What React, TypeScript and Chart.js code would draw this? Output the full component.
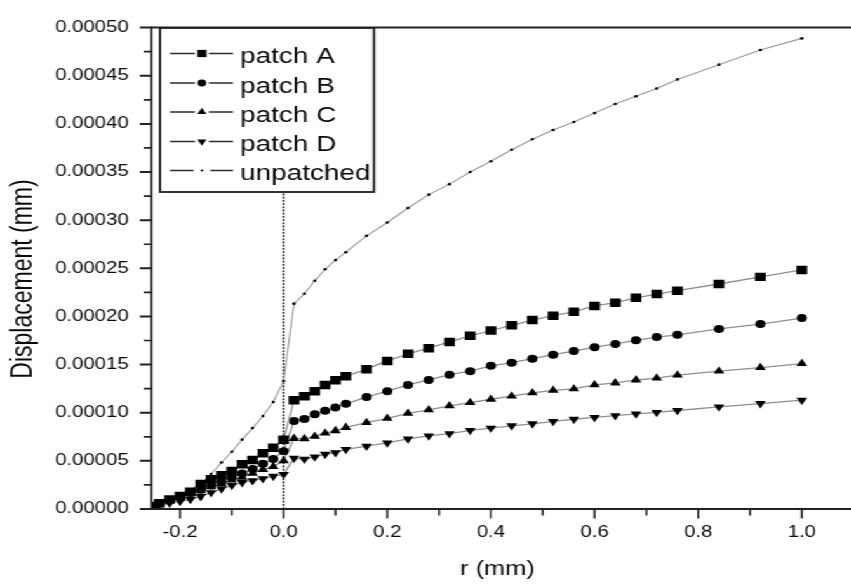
import React, { useEffect, useRef } from "react";
import { Chart, registerables } from "chart.js";

Chart.register(...registerables);

// The reference picture is horizontally stretched; we draw at a narrower width and stretch.
const STRETCH = 1.27;
const W = 670;
const H = 584;

const rValues = [
  -0.25, -0.24, -0.22, -0.2, -0.18, -0.16, -0.14, -0.12, -0.1, -0.08, -0.06, -0.04, -0.02, 0.0,
  0.02, 0.04, 0.06, 0.08, 0.1, 0.12, 0.16, 0.2, 0.24, 0.28, 0.32, 0.36, 0.4, 0.44, 0.48, 0.52,
  0.56, 0.6, 0.64, 0.68, 0.72, 0.76, 0.84, 0.92, 1.0,
];

const patchA = [
  0.03e-4, 0.06e-4, 0.1e-4, 0.135e-4, 0.18e-4, 0.26e-4, 0.31e-4, 0.35e-4, 0.395e-4, 0.466e-4, 0.51e-4, 0.58e-4, 0.635e-4, 0.72e-4,
  1.13e-4, 1.17e-4, 1.224e-4, 1.289e-4, 1.337e-4, 1.378e-4, 1.452e-4, 1.538e-4, 1.612e-4, 1.67e-4, 1.735e-4, 1.799e-4, 1.854e-4, 1.908e-4, 1.962e-4, 2.008e-4,
  2.048e-4, 2.109e-4, 2.143e-4, 2.194e-4, 2.232e-4, 2.268e-4, 2.337e-4, 2.411e-4, 2.483e-4,
];

const patchB = [
  0.03e-4, 0.058e-4, 0.09e-4, 0.125e-4, 0.166e-4, 0.2e-4, 0.245e-4, 0.285e-4, 0.33e-4, 0.37e-4, 0.415e-4, 0.47e-4, 0.52e-4, 0.6e-4,
  0.915e-4, 0.936e-4, 0.983e-4, 1.02e-4, 1.054e-4, 1.092e-4, 1.163e-4, 1.224e-4, 1.289e-4, 1.34e-4, 1.395e-4, 1.432e-4, 1.487e-4, 1.52e-4, 1.561e-4, 1.603e-4,
  1.64e-4, 1.681e-4, 1.714e-4, 1.752e-4, 1.786e-4, 1.809e-4, 1.87e-4, 1.921e-4, 1.983e-4,
];

const patchC = [
  0.03e-4, 0.05e-4, 0.085e-4, 0.12e-4, 0.155e-4, 0.19e-4, 0.23e-4, 0.265e-4, 0.3e-4, 0.33e-4, 0.37e-4, 0.41e-4, 0.44e-4, 0.5e-4,
  0.732e-4, 0.73e-4, 0.755e-4, 0.789e-4, 0.813e-4, 0.847e-4, 0.898e-4, 0.942e-4, 0.993e-4, 1.03e-4, 1.071e-4, 1.105e-4, 1.14e-4, 1.173e-4, 1.207e-4, 1.232e-4,
  1.248e-4, 1.289e-4, 1.309e-4, 1.34e-4, 1.36e-4, 1.391e-4, 1.432e-4, 1.469e-4, 1.51e-4,
];

const patchD = [
  0.02e-4, 0.035e-4, 0.06e-4, 0.08e-4, 0.1e-4, 0.13e-4, 0.17e-4, 0.21e-4, 0.245e-4, 0.275e-4, 0.295e-4, 0.315e-4, 0.34e-4, 0.36e-4,
  0.528e-4, 0.517e-4, 0.541e-4, 0.568e-4, 0.585e-4, 0.619e-4, 0.653e-4, 0.687e-4, 0.728e-4, 0.76e-4, 0.783e-4, 0.816e-4, 0.84e-4, 0.864e-4, 0.885e-4, 0.91e-4,
  0.932e-4, 0.952e-4, 0.969e-4, 0.987e-4, 1.003e-4, 1.023e-4, 1.061e-4, 1.095e-4, 1.13e-4,
];

const unpatched = [
  0.03e-4, 0.055e-4, 0.1e-4, 0.145e-4, 0.2e-4, 0.262e-4, 0.364e-4, 0.483e-4, 0.595e-4, 0.721e-4, 0.84e-4, 0.966e-4, 1.112e-4, 1.33e-4,
  2.133e-4, 2.235e-4, 2.37e-4, 2.49e-4, 2.585e-4, 2.667e-4, 2.837e-4, 2.976e-4, 3.126e-4, 3.265e-4, 3.374e-4, 3.5e-4, 3.612e-4, 3.731e-4, 3.84e-4, 3.936e-4,
  4.02e-4, 4.112e-4, 4.207e-4, 4.286e-4, 4.367e-4, 4.462e-4, 4.615e-4, 4.768e-4, 4.888e-4,
];

const seriesNames = ["patch A", "patch B", "patch C", "patch D", "unpatched"];
const yTitle = "Displacement (mm)";
const xTitle = "r (mm)";

const xMajorTicks = [-0.2, 0.0, 0.2, 0.4, 0.6, 0.8, 1.0];
const xMinorTicks = [-0.1, 0.1, 0.3, 0.5, 0.7, 0.9];
const yMajorTicks = [0, 0.00005, 0.0001, 0.00015, 0.0002, 0.00025, 0.0003, 0.00035, 0.0004, 0.00045, 0.0005];
const yMinorTicks = [0.000025, 0.000075, 0.000125, 0.000175, 0.000225, 0.000275, 0.000325, 0.000375, 0.000425, 0.000475];

const FONT = '"Liberation Sans", Arial, Helvetica, sans-serif';

type Marker = { style: string; radius: number; rotation: number };
const markers: Marker[] = [
  { style: "rect", radius: 6, rotation: 0 },
  { style: "circle", radius: 4, rotation: 0 },
  { style: "triangle", radius: 4.9, rotation: 0 },
  { style: "triangle", radius: 4.9, rotation: 180 },
  { style: "circle", radius: 1.3, rotation: 0 },
];

function drawMarker(ctx: CanvasRenderingContext2D, m: Marker, x: number, y: number) {
  ctx.beginPath();
  if (m.style === "rect") {
    const s = Math.SQRT1_2 * m.radius;
    ctx.rect(x - s, y - s, 2 * s, 2 * s);
  } else if (m.style === "circle") {
    ctx.arc(x, y, m.radius, 0, Math.PI * 2);
  } else {
    let rad = (m.rotation * Math.PI) / 180;
    ctx.moveTo(x + Math.sin(rad) * m.radius, y - Math.cos(rad) * m.radius);
    rad += (2 * Math.PI) / 3;
    ctx.lineTo(x + Math.sin(rad) * m.radius, y - Math.cos(rad) * m.radius);
    rad += (2 * Math.PI) / 3;
    ctx.lineTo(x + Math.sin(rad) * m.radius, y - Math.cos(rad) * m.radius);
    ctx.closePath();
  }
  ctx.fillStyle = "#000";
  ctx.fill();
}

const framePlugin = {
  id: "framePlugin",
  beforeDatasetsDraw(chart: any) {
    const { ctx, chartArea: a, scales } = chart;
    const x0 = scales.x.getPixelForValue(0);
    ctx.save();
    ctx.strokeStyle = "#111";
    ctx.lineWidth = 1.5;
    ctx.setLineDash([1.8, 1.4]);
    ctx.beginPath();
    ctx.moveTo(x0, a.bottom);
    ctx.lineTo(x0, a.top);
    ctx.stroke();
    ctx.restore();
  },
  afterDraw(chart: any) {
    const { ctx, chartArea: a, scales } = chart;
    const xs = scales.x;
    const ys = scales.y;
    ctx.save();
    ctx.strokeStyle = "#222";
    // frame lines
    ctx.lineWidth = 2;
    ctx.beginPath();
    ctx.moveTo(a.left, a.bottom);
    ctx.lineTo(W, a.bottom);
    ctx.moveTo(a.left, a.top);
    ctx.lineTo(W, a.top);
    ctx.stroke();
    ctx.lineWidth = 1.6;
    ctx.beginPath();
    ctx.moveTo(a.left, a.top - 1);
    ctx.lineTo(a.left, a.bottom + 1);
    ctx.stroke();
    // y ticks
    ctx.lineWidth = 2;
    ctx.beginPath();
    yMajorTicks.forEach((v) => {
      const p = ys.getPixelForValue(v);
      ctx.moveTo(a.left - 9.2, p);
      ctx.lineTo(a.left, p);
    });
    ctx.stroke();
    ctx.lineWidth = 1.7;
    ctx.beginPath();
    yMinorTicks.forEach((v) => {
      const p = ys.getPixelForValue(v);
      ctx.moveTo(a.left - 6.2, p);
      ctx.lineTo(a.left, p);
    });
    ctx.stroke();
    // x ticks
    ctx.lineWidth = 1.5;
    ctx.beginPath();
    xMajorTicks.forEach((v) => {
      const p = xs.getPixelForValue(v);
      ctx.moveTo(p, a.bottom);
      ctx.lineTo(p, a.bottom + 9.5);
    });
    xMinorTicks.forEach((v) => {
      const p = xs.getPixelForValue(v);
      ctx.moveTo(p, a.bottom);
      ctx.lineTo(p, a.bottom + 6.5);
    });
    ctx.stroke();

    // y axis title (slightly below the axis centre, as in the reference)
    ctx.save();
    ctx.translate(19, 279);
    ctx.rotate(-Math.PI / 2);
    ctx.font = `23px ${FONT}`;
    ctx.fillStyle = "#0a0a0a";
    ctx.textAlign = "center";
    ctx.textBaseline = "middle";
    ctx.fillText(yTitle, 0, 0);
    ctx.restore();

    // legend box
    const bx = 126, by = 28, bw = 168.5, bh = 164;
    ctx.fillStyle = "#fff";
    ctx.fillRect(bx, by, bw, bh);
    ctx.lineWidth = 1.8;
    ctx.strokeStyle = "#1e1e1e";
    ctx.strokeRect(bx, by, bw, bh);
    const rowY = [53.5, 83, 112, 141.5, 170.5];
    ctx.font = `22px ${FONT}`;
    ctx.textBaseline = "alphabetic";
    ctx.textAlign = "left";
    seriesNames.forEach((name, i) => {
      const y = rowY[i];
      ctx.strokeStyle = "#2a2a2a";
      ctx.lineWidth = 1.4;
      ctx.beginPath();
      const gap = i === 4 ? 6.5 : 5.5;
      ctx.moveTo(133.9, y);
      ctx.lineTo(159 - gap, y);
      ctx.moveTo(159 + gap, y);
      ctx.lineTo(183.5, y);
      ctx.stroke();
      const m = markers[i];
      drawMarker(ctx, { ...m, radius: i === 4 ? 1.1 : m.radius * 0.85 }, 159, y);
      ctx.fillStyle = "#0a0a0a";
      ctx.fillText(name, 189, y + 9.5);
    });
    ctx.restore();
  },
};

export default function App() {
  const canvasRef = useRef<HTMLCanvasElement | null>(null);

  useEffect(() => {
    if (!canvasRef.current) return;
    const all = [patchA, patchB, patchC, patchD, unpatched];
    const datasets = all.map((vals, i) => ({
      label: seriesNames[i],
      data: rValues.map((r, j) => ({ x: r, y: vals[j] })),
      borderColor: i === 4 ? "#9a9a9a" : "#8f8f8f",
      borderWidth: i === 4 ? 1.1 : 1.3,
      pointStyle: markers[i].style,
      pointRadius: markers[i].radius,
      pointRotation: markers[i].rotation,
      pointBackgroundColor: "#000",
      pointBorderColor: "#000",
      pointBorderWidth: 0,
      pointHoverRadius: markers[i].radius,
      tension: 0,
      fill: false,
    }));

    const chart = new Chart(canvasRef.current, {
      type: "line",
      data: { datasets },
      plugins: [framePlugin],
      options: {
        animation: false,
        responsive: false,
        devicePixelRatio: 1,
        layout: { padding: { top: 19, right: 1, left: 0, bottom: 0 } },
        plugins: { legend: { display: false }, tooltip: { enabled: false } },
        scales: {
          x: {
            type: "linear",
            min: -0.255,
            max: 1.08,
            grid: { display: false, drawTicks: false },
            border: { display: false },
            afterFit: (s: any) => {
              s.height = 75;
            },
            afterBuildTicks: (s: any) => {
              s.ticks = xMajorTicks.map((v) => ({ value: v }));
            },
            ticks: {
              padding: 14,
              color: "#0a0a0a",
              font: { family: FONT, size: 16 },
              maxRotation: 0,
              autoSkip: false,
              callback: (v: any) => Number(v).toFixed(1),
            },
            title: {
              display: true,
              text: xTitle,
              color: "#0a0a0a",
              font: { family: FONT, size: 20 },
              padding: { top: 4, bottom: 3 },
            },
          },
          y: {
            type: "linear",
            min: 0,
            max: 0.0005,
            grid: { display: false, drawTicks: false },
            border: { display: false },
            afterFit: (s: any) => {
              s.width = 119.3;
            },
            afterBuildTicks: (s: any) => {
              s.ticks = yMajorTicks.map((v) => ({ value: v }));
            },
            ticks: {
              padding: 18,
              color: "#0a0a0a",
              font: { family: FONT, size: 16 },
              autoSkip: false,
              callback: (v: any) => Number(v).toFixed(5),
            },
            title: { display: false },
          },
        },
      },
    } as any);
    return () => chart.destroy();
  }, []);

  return (
    <div
      style={{
        position: "absolute",
        left: 0,
        top: 0,
        width: W,
        height: H,
        transform: `scaleX(${STRETCH})`,
        transformOrigin: "0 0",
        background: "#fff",
      }}
    >
      <canvas ref={canvasRef} width={W} height={H} style={{ display: "block", width: W, height: H }} />
    </div>
  );
}
